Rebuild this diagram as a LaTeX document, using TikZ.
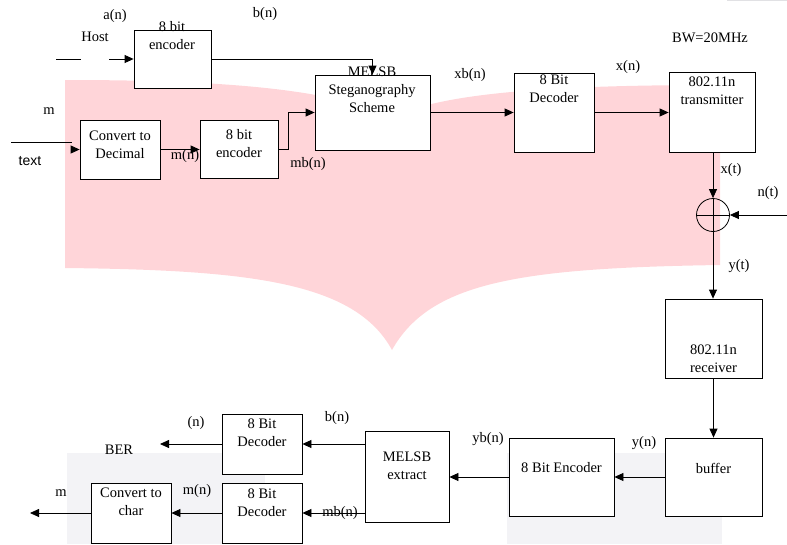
\documentclass[tikz,border=0pt]{standalone}
\usepackage{fontspec}
\setmainfont{Liberation Serif}
\newfontfamily\sansf{Liberation Sans}
\usetikzlibrary{arrows.meta}
\definecolor{pinkbg}{RGB}{255,213,217}
\definecolor{graybg}{RGB}{243,243,246}
\definecolor{topline}{RGB}{225,225,228}
\begin{document}
\begin{tikzpicture}[x=1pt,y=-1pt,
  blk/.style={draw, line width=0.8pt, fill=white, inner sep=0pt},
  txt/.style={inner sep=0pt, align=center, font=\fontsize{14.5}{18}\selectfont},
  lbl/.style={inner sep=0pt, font=\fontsize{14.5}{18}\selectfont},
  con/.style={line width=0.8pt},
  arr/.style={con, -{Triangle[length=9pt,width=8pt]}}]
\useasboundingbox (0,0) rectangle (787,544);
% background shapes
\fill[pinkbg] (65,80) .. controls (200,80) and (330,86) .. (392,118)
  .. controls (440,92) and (560,85) .. (720,85) -- (720,265)
  .. controls (520,268) and (430,282) .. (392,350)
  .. controls (355,282) and (250,270) .. (65,268) -- cycle;
\fill[graybg] (67,453) rectangle (265,544);
\fill[graybg] (507,453) rectangle (722,544);
\draw[topline, line width=1pt] (727,0.5) -- (787,0.5);
% blocks
\node[blk, minimum width=77pt, minimum height=58pt] (henc) at (172.5,59) {};
\node[txt] (henct) at (172,36) {8 bit\\encoder};
\node[blk, minimum width=115pt, minimum height=75pt] (melsb) at (372.5,112.5) {};
\node[txt] (melsbt) at (372,90) {MELSB\\Steganography\\Scheme};
\node[blk, minimum width=80pt, minimum height=59pt] (cdec) at (120,149.5) {};
\node[txt] (cdect) at (120,144.5) {Convert to\\Decimal};
\node[blk, minimum width=78pt, minimum height=58pt] (enc2) at (239,149) {};
\node[txt] (enc2t) at (239,144) {8 bit\\encoder};
\node[blk, minimum width=80pt, minimum height=79pt] (dec1) at (554,112.5) {};
\node[txt] (dec1t) at (554,89) {8 Bit\\Decoder};
\node[blk, minimum width=86pt, minimum height=80pt] (tx) at (712,112) {};
\node[txt] (txt1) at (712,90.5) {802.11n\\transmitter};
\node[draw, circle, line width=0.8pt, minimum size=33pt, inner sep=0pt] (adder) at (713,215) {};
\draw[con] (adder.north) -- (adder.south);
\draw[con] (adder.west) -- (adder.east);
\node[blk, minimum width=97pt, minimum height=79pt] (rx) at (713.5,338.5) {};
\node[txt] (rxt) at (713.5,359) {802.11n\\receiver};
\node[blk, minimum width=97pt, minimum height=78pt] (buf) at (713.5,477) {};
\node[txt] (buft) at (713.5,468) {buffer};
\node[blk, minimum width=105pt, minimum height=78pt] (enc3) at (561.5,477) {};
\node[txt] (enc3t) at (561.5,468) {8 Bit Encoder};
\node[blk, minimum width=84pt, minimum height=91pt] (mext) at (407,476.5) {};
\node[txt] (mextt) at (407,466) {MELSB\\extract};
\node[blk, minimum width=80pt, minimum height=60pt] (decU) at (262,444) {};
\node[txt] (decUt) at (262,433) {8 Bit\\Decoder};
\node[blk, minimum width=80pt, minimum height=60pt] (decL) at (262,513) {};
\node[txt] (decLt) at (262,502.5) {8 Bit\\Decoder};
\node[blk, minimum width=80pt, minimum height=60pt] (cchar) at (131,513) {};
\node[txt] (ccht) at (131,502) {Convert to\\char};
% free ends
\coordinate (h1) at (56,59);
\coordinate (h2) at (81,59);
\coordinate (h3) at (109,59);
\coordinate (t1) at (11,142);
\coordinate (t2) at (72,142);
\coordinate (t3) at (72,149.5);
\coordinate (nin) at (787,215);
\coordinate (ber) at (160,444);
\coordinate (mout) at (30,513);
% connectors
\draw[con] (h1) -- (h2);
\draw[arr] (h3) -- (henc.west);
\draw[arr] (henc.east) -| (melsb.north);
\draw[con] (t1) -- (t2);
\draw[arr] (t3) -- (cdec.west);
\draw[arr] (cdec.east) -- (cdec.east -| enc2.west);
\draw[arr] (enc2.east) -- ++(10,0) |- (melsb.west);
\draw[arr] (melsb.east) -- (dec1.west);
\draw[arr] (dec1.east) -- (dec1.east -| tx.west);
\draw[arr] (adder.north |- tx.south) -- (adder.north);
\draw[arr] (nin) -- (adder.east);
\draw[arr] (adder.south) -- (adder.south |- rx.north);
\draw[arr] (rx.south) -- (buf.north);
\draw[arr] (buf.west) -- (enc3.east);
\draw[arr] (enc3.west) -- (enc3.west -| mext.east);
\draw[arr] (mext.west |- decU.east) -- (decU.east);
\draw[arr] (decU.west) -- (ber);
\draw[arr] (mext.west |- decL.east) -- (decL.east);
\draw[arr] (decL.west) -- (cchar.east);
\draw[arr] (cchar.west) -- (mout);
% labels
\node[lbl] (la) at (115,16) {a(n)};
\node[lbl] (lb) at (265,14) {b(n)};
\node[lbl] (lhost) at (95,37) {Host};
\node[lbl] (lm) at (49,111) {m};
\node[lbl, font=\sansf\fontsize{14}{16}\selectfont] (ltext) at (30,161) {text};
\node[lbl] (lmn) at (185,156) {m(n)};
\node[lbl] (lmbn) at (308,164) {mb(n)};
\node[lbl] (lxbn) at (470,75) {xb(n)};
\node[lbl] (lxn) at (628,67) {x(n)};
\node[lbl] (lbw) at (710,38) {BW=20MHz};
\node[lbl] (lxt) at (731,170) {x(t)};
\node[lbl] (lnt) at (768,193) {n(t)};
\node[lbl] (lyt) at (739,266) {y(t)};
\node[lbl] (lyn) at (644,443) {y(n)};
\node[lbl] (lybn) at (488,439) {yb(n)};
\node[lbl] (lb2) at (337,418) {b(n)};
\node[lbl] (ln) at (196,423) {(n)};
\node[lbl] (lber) at (119,450) {BER};
\node[lbl] (lmn2) at (197,491) {m(n)};
\node[lbl] (lmbn2) at (340,513) {mb(n)};
\node[lbl] (lm2) at (61,493) {m};
\end{tikzpicture}
\end{document}
